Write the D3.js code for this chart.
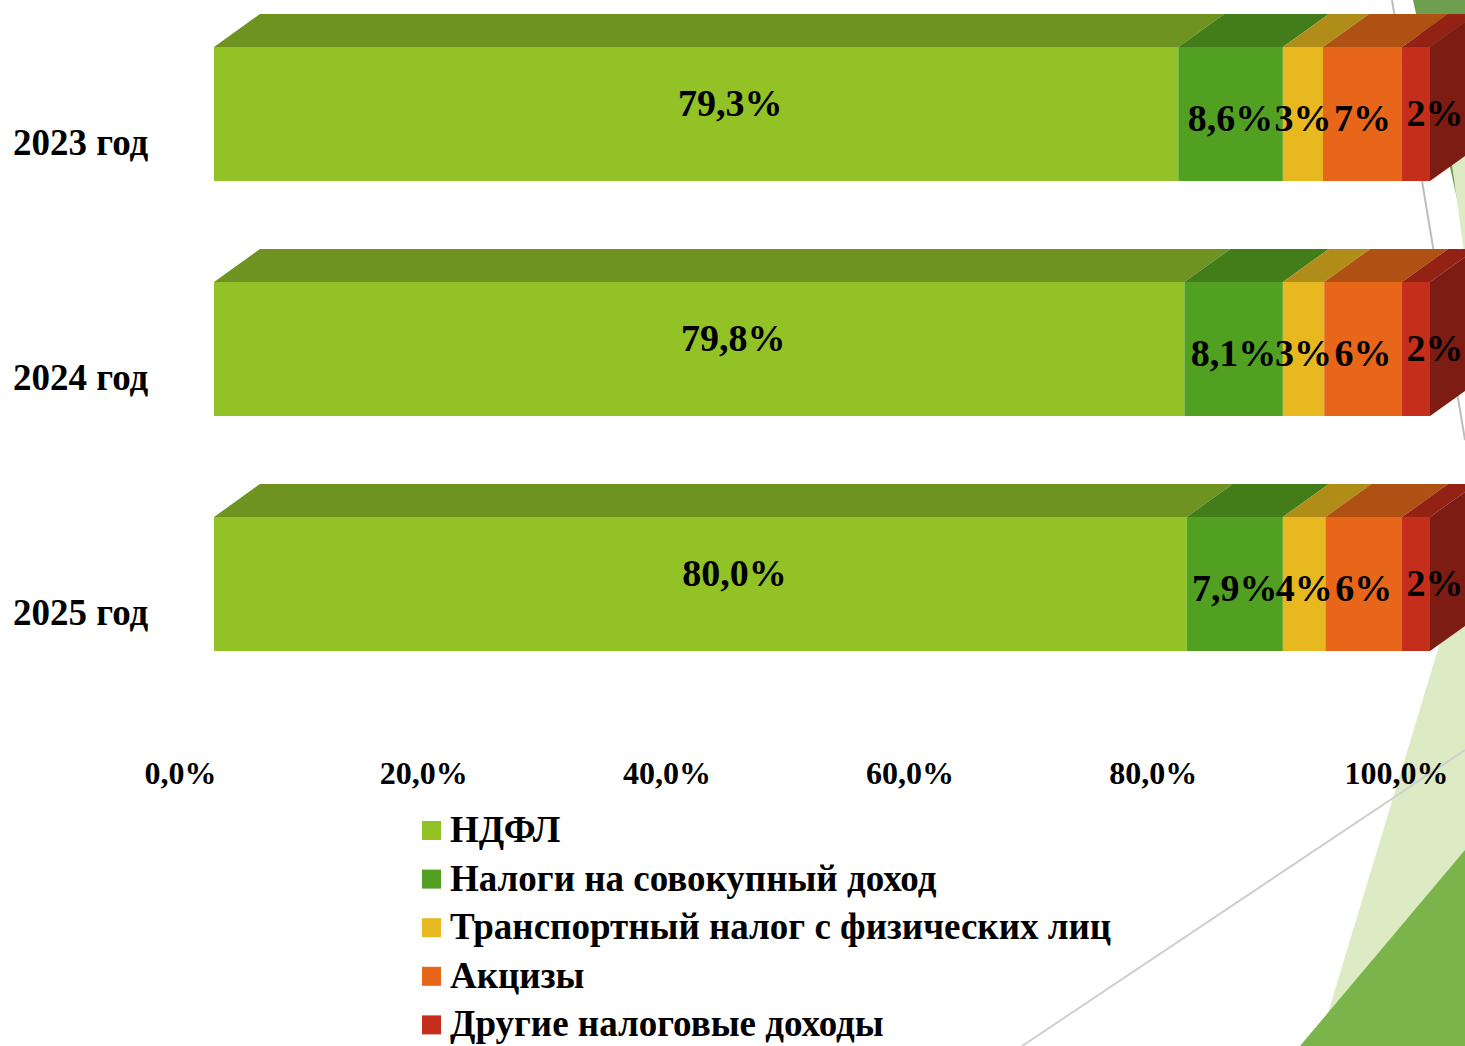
<!DOCTYPE html>
<html>
<head>
<meta charset="utf-8">
<script src="https://cdn.jsdelivr.net/npm/d3@7"></script>
<style>
  html, body { margin: 0; padding: 0; background: #fff; }
  svg { display: block; }
  text { font-family: "Times New Roman", "Liberation Serif", serif; font-weight: bold; fill: #000; }
</style>
</head>
<body>
<svg id="chart" width="1465" height="1046"></svg>
<script>
// data (shares, %)
const categories = ["2023 год", "2024 год", "2025 год"];
const seriesNames = [
    "НДФЛ",
    "Налоги на совокупный доход",
    "Транспортный налог с физических лиц",
    "Акцизы",
    "Другие налоговые доходы"
];
const ndfl      = [79.3, 79.8, 80.0];
const sovokup   = [8.6, 8.1, 7.9];
const transport = [3.3, 3.4, 3.5];
const akcizy    = [6.5, 6.4, 6.3];
const drugie    = [2.3, 2.3, 2.3];
const seriesValues = [ndfl, sovokup, transport, akcizy, drugie];
const labelDecimals = [1, 1, 0, 0, 0];
const tickValues = [0, 20, 40, 60, 80, 100];

const frontColors = ["#92c226", "#52a021", "#e8b821", "#e8661a", "#c42e1b"];
const topColors   = ["#6f9320", "#437d1a", "#b08d18", "#b05114", "#932214"];
const sideColor = "#7d1c12";

const ru = d3.formatLocale({ decimal: ",", thousands: " ", grouping: [3], currency: ["", " ₽"] });
const fmt1 = ru.format(".1f"), fmt0 = ru.format(".0f");

const svg = d3.select("#chart");

// slide decoration behind the chart
const deco = svg.append("g");
deco.append("polygon").attr("points", "1413,0 1465,0 1465,235").attr("fill", "#6e9f4e");
deco.append("polygon").attr("points", "1450,150 1465,120 1465,260").attr("fill", "#dcebc4");
deco.append("polygon").attr("points", "1318,1046 1465,560 1465,1046").attr("fill", "#dcebc4");
deco.append("polygon").attr("points", "1300,1046 1465,850 1465,1046").attr("fill", "#7ab44b");
deco.append("line").attr("x1", 1022).attr("y1", 1046).attr("x2", 1465).attr("y2", 750)
    .attr("stroke", "#cfcfcf").attr("stroke-width", 2);
deco.append("line").attr("x1", 1392).attr("y1", 0).attr("x2", 1465).attr("y2", 440)
    .attr("stroke", "#bdbdbd").attr("stroke-width", 2);

const x = d3.scaleLinear().domain([0, 100]).range([214, 1430]);
const y = d3.scaleBand().domain(categories).range([47, 651]).paddingInner(101 / 235).paddingOuter(0);
const depthX = 46, depthY = 33;

// stacked layout
const rows = categories.map((c, i) => {
    const r = { cat: c };
    seriesNames.forEach((s, k) => { r[s] = seriesValues[k][i]; });
    return r;
});
const stacked = d3.stack().keys(seriesNames)(rows);

const bars = svg.append("g");
stacked.forEach((layer, k) => {
    const g = bars.append("g");
    layer.forEach(d => {
        const x0 = x(d[0]), x1 = x(d[1]);
        const yt = y(d.data.cat), h = y.bandwidth();
        g.append("polygon")
            .attr("points", [[x0, yt], [x0 + depthX, yt - depthY], [x1 + depthX, yt - depthY], [x1, yt]].join(" "))
            .attr("fill", topColors[k]);
        g.append("rect")
            .attr("x", x0).attr("y", yt).attr("width", x1 - x0).attr("height", h)
            .attr("fill", frontColors[k]);
        if (k === stacked.length - 1) {
            g.append("polygon")
                .attr("points", [[x1, yt], [x1 + depthX, yt - depthY], [x1 + depthX, yt + h - depthY], [x1, yt + h]].join(" "))
                .attr("fill", sideColor);
        }
    });
});

// data labels
const labels = svg.append("g").attr("font-size", 38).attr("text-anchor", "middle");
stacked.forEach((layer, k) => {
    layer.forEach(d => {
        const x0 = x(d[0]), x1 = x(d[1]);
        const yc = y(d.data.cat) + y.bandwidth() / 2;
        let cx = (x0 + x1) / 2, cy = yc + 4;
        if (k === 0) { cx += 34; cy = yc - 11; }
        if (k === stacked.length - 1) { cx = (x0 + x1) / 2 + 19; cy = yc - 1; }
        const v = d[1] - d[0];
        labels.append("text")
            .attr("x", cx).attr("y", cy).attr("dy", "0.35em")
            .text((labelDecimals[k] === 1 ? fmt1(v) : fmt0(v)) + "%");
    });
});

// category labels
svg.append("g").attr("font-size", 37)
    .selectAll("text").data(categories).join("text")
    .attr("x", 13).attr("y", d => y(d) + y.bandwidth() / 2 + 41)
    .text(d => d);

// value axis
const axis = d3.axisBottom(x).tickValues(tickValues).tickSize(0).tickPadding(0)
    .tickFormat(d => fmt1(d) + "%");
const ax = svg.append("g").attr("transform", "translate(-34,784)").call(axis);
ax.select(".domain").remove();
ax.selectAll("text").attr("font-size", 32).attr("dy", 0)
    .style("font-family", "\"Times New Roman\", \"Liberation Serif\", serif").style("font-weight", "bold");

// legend
const legend = svg.append("g").selectAll("g").data(seriesNames).join("g")
    .attr("transform", (d, i) => `translate(422,${821 + i * 48.6})`);
legend.append("rect").attr("width", 19).attr("height", 19).attr("fill", (d, i) => frontColors[i]);
legend.append("text").attr("x", 28).attr("y", 21).attr("font-size", 37).text(d => d);
</script>
</body>
</html>
